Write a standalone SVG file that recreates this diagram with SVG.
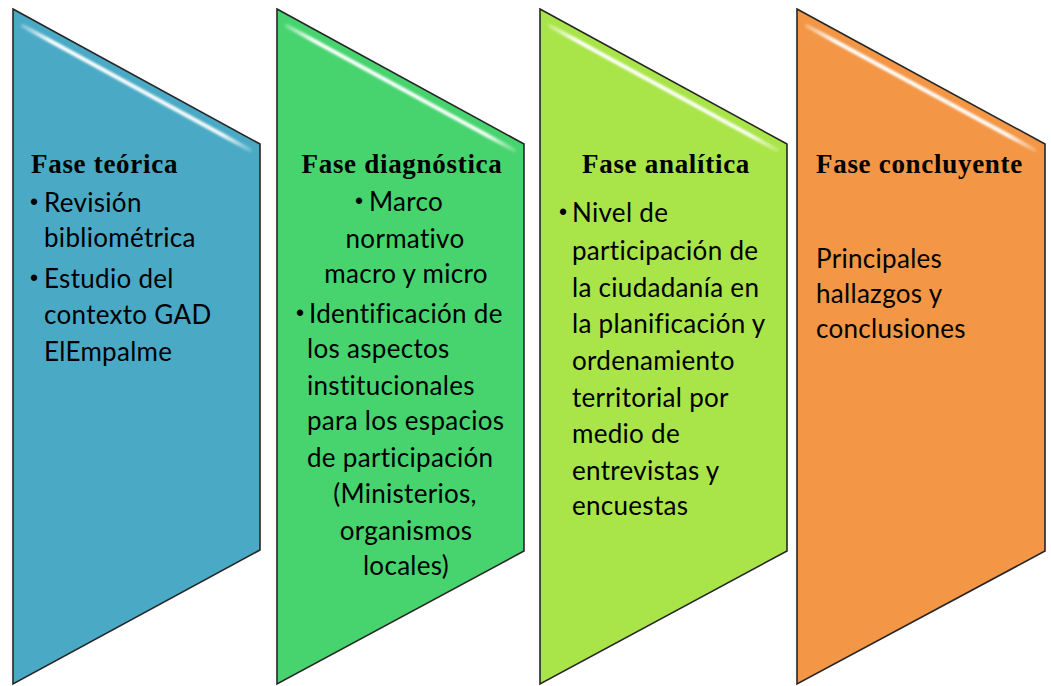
<svg xmlns="http://www.w3.org/2000/svg" width="1051" height="686" viewBox="0 0 1051 686">
<defs>
<linearGradient id="hl" x1="0" y1="0" x2="1" y2="0">
<stop offset="0" stop-color="#fff" stop-opacity="0.3"/>
<stop offset="0.12" stop-color="#fff" stop-opacity="1"/>
<stop offset="0.88" stop-color="#fff" stop-opacity="0.95"/>
<stop offset="1" stop-color="#fff" stop-opacity="0.2"/>
</linearGradient>
<filter id="soft" x="-10%" y="-10%" width="120%" height="120%"><feGaussianBlur stdDeviation="0.9"/></filter>
</defs>
<style>
.shape{stroke:#262626;stroke-width:1.6;stroke-linejoin:miter}
.hl{stroke:url(#hl);stroke-width:4;fill:none;filter:url(#soft);stroke-linecap:round}
.title{font-family:"Liberation Serif","Times New Roman",serif;font-weight:bold;font-size:27px;letter-spacing:0.7px;fill:#000}
.body{font-family:Lato,"Liberation Sans",sans-serif;font-size:26px;letter-spacing:0.3px;fill:#000}
.bul{font-family:"Liberation Sans",sans-serif;font-size:23px;fill:#000}
.c{text-anchor:middle}
</style>
<rect width="1051" height="686" fill="#fff"/>
<g id="fase-teorica">
<polygon class="shape" fill="#4AAAC5" points="13,9 260,144 260,550 13,684"/>
<line class="hl" x1="23" y1="26" x2="250" y2="150"/>
<text class="title" x="31" y="173">Fase teórica</text>
<text class="bul" x="30" y="210">•</text>
<text class="body" x="44" y="212">Revisión</text>
<text class="body" x="44" y="247">bibliométrica</text>
<text class="bul" x="30" y="286">•</text>
<text class="body" x="44" y="288">Estudio del</text>
<text class="body" x="44" y="324">contexto GAD</text>
<text class="body" x="44" y="361">ElEmpalme</text>
</g>
<g id="fase-diagnostica">
<polygon class="shape" fill="#47D46F" points="277,9 524,144 524,551 277,684"/>
<line class="hl" x1="287" y1="26" x2="514" y2="150"/>
<text class="title c" x="402" y="173">Fase diagnóstica</text>
<text class="bul" x="355" y="209">•</text>
<text class="body" x="369" y="211">Marco</text>
<text class="body c" x="405" y="248">normativo</text>
<text class="body c" x="406" y="283">macro y micro</text>
<text class="bul" x="296" y="321">•</text>
<text class="body" x="309" y="323">Identificación de</text>
<text class="body" x="307" y="358">los aspectos</text>
<text class="body" x="307" y="395">institucionales</text>
<text class="body" x="307" y="430">para los espacios</text>
<text class="body" x="307" y="467">de participación</text>
<text class="body c" x="405" y="503">(Ministerios,</text>
<text class="body c" x="406" y="540">organismos</text>
<text class="body c" x="406" y="575">locales)</text>
</g>
<g id="fase-analitica">
<polygon class="shape" fill="#A9E548" points="540,9 787,144 787,551 540,684"/>
<line class="hl" x1="550" y1="26" x2="777" y2="150"/>
<text class="title c" x="666" y="173">Fase analítica</text>
<text class="bul" x="559" y="220">•</text>
<text class="body" x="572" y="222">Nivel de</text>
<text class="body" x="572" y="260">participación de</text>
<text class="body" x="572" y="297">la ciudadanía en</text>
<text class="body" x="572" y="333">la planificación y</text>
<text class="body" x="572" y="370">ordenamiento</text>
<text class="body" x="572" y="407">territorial por</text>
<text class="body" x="572" y="443">medio de</text>
<text class="body" x="572" y="480">entrevistas y</text>
<text class="body" x="572" y="515">encuestas</text>
</g>
<g id="fase-concluyente">
<polygon class="shape" fill="#F39645" points="797,9 1045,144 1045,551 797,684"/>
<line class="hl" x1="807" y1="26" x2="1035" y2="150"/>
<text class="title" x="816" y="173">Fase concluyente</text>
<text class="body" x="816" y="268">Principales</text>
<text class="body" x="816" y="303">hallazgos y</text>
<text class="body" x="816" y="338">conclusiones</text>
</g>
<g id="connectors"/>
</svg>
